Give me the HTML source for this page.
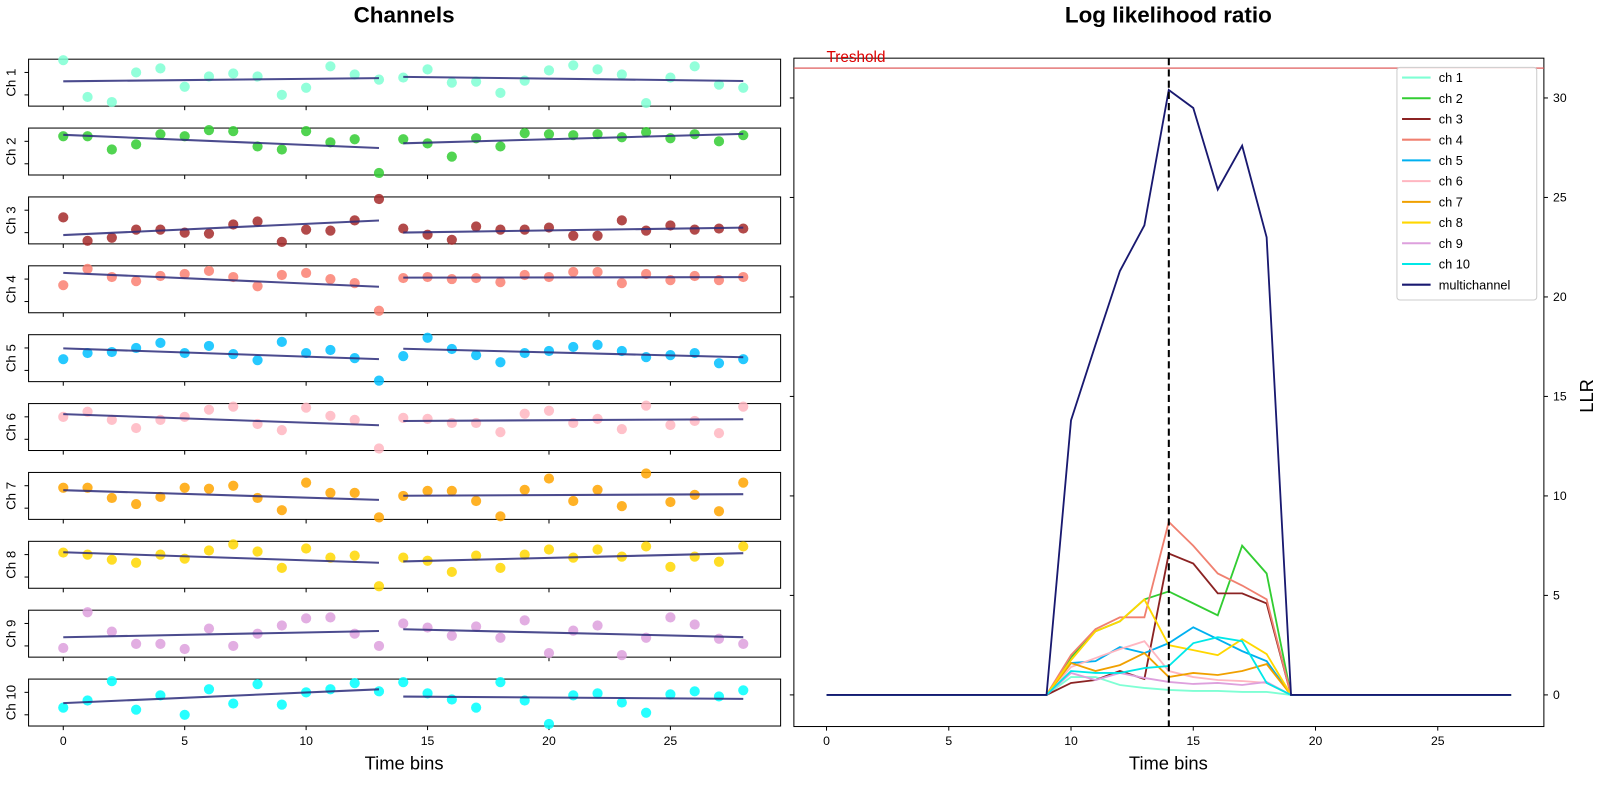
<!DOCTYPE html>
<html><head><meta charset="utf-8"><style>
html,body{margin:0;padding:0;background:#fff;}
svg{display:block;font-family:"Liberation Sans","DejaVu Sans",sans-serif;}
</style></head><body>
<svg id="c" width="1600" height="800" viewBox="0 0 1568 784" xmlns="http://www.w3.org/2000/svg"></svg>
<script>
const timeBins = [0,1,2,3,4,5,6,7,8,9,10,11,12,13,14,15,16,17,18,19,20,21,22,23,24,25,26,27,28];
const channelNames = ["Ch 1","Ch 2","Ch 3","Ch 4","Ch 5","Ch 6","Ch 7","Ch 8","Ch 9","Ch 10"];
const ch1 = [45,9,4,33,37,19,29,32,29,11,18,39,31,26,28,36,23,24,13,25,35,40,36,31,3,28,39,21,18];
const ch2 = [38,38,25,30,40,38,44,43,28,25,43,32,35,2,35,31,18,36,28,41,40,39,40,37,42,36,40,33,39];
const ch3 = [26,3,6,14,14,11,10,19,22,2,14,13,23,44,15,9,4,17,14,14,16,8,8,23,13,18,14,15,15];
const ch4 = [27,43,35,31,36,38,41,35,26,37,39,33,29,2,34,35,33,34,30,37,35,40,40,29,38,32,36,32,35];
const ch5 = [22,28,29,33,38,28,35,27,21,39,28,31,23,1,25,43,32,26,19,28,30,34,36,30,24,26,28,18,22];
const ch6 = [33,38,30,22,30,33,40,43,26,20,42,34,30,2,32,31,27,27,18,36,39,27,31,21,44,25,29,17,43];
const ch7 = [31,31,21,15,22,31,30,33,21,9,36,26,26,2,23,28,28,18,3,29,40,18,29,13,45,17,24,8,36];
const ch8 = [35,33,28,25,33,29,37,43,36,20,39,30,32,2,30,27,16,32,20,33,38,30,38,31,41,21,31,26,41];
const ch9 = [9,44,25,13,13,8,28,11,23,31,38,39,23,11,33,29,21,30,19,36,4,26,31,2,19,39,32,18,13];
const ch10 = [18,25,44,16,30,11,36,22,41,21,33,36,42,34,43,32,26,18,43,25,2,30,32,23,13,31,34,29,35];
const llr1 = [0,0,0,0,0,0,0,0,0,0,0.9,0.9,0.5,0.35,0.25,0.2,0.2,0.15,0.15,0,0,0,0,0,0,0,0,0,0];
const llr2 = [0,0,0,0,0,0,0,0,0,0,1.9,3.2,3.7,4.8,5.2,4.6,4.0,7.5,6.1,0,0,0,0,0,0,0,0,0,0];
const llr3 = [0,0,0,0,0,0,0,0,0,0,0.6,0.75,1.2,0.8,7.1,6.6,5.1,5.1,4.6,0,0,0,0,0,0,0,0,0,0];
const llr4 = [0,0,0,0,0,0,0,0,0,0,2.0,3.3,3.9,3.9,8.7,7.5,6.1,5.5,4.8,0,0,0,0,0,0,0,0,0,0];
const llr5 = [0,0,0,0,0,0,0,0,0,0,1.6,1.7,2.4,2.1,2.6,3.4,2.8,2.2,1.7,0,0,0,0,0,0,0,0,0,0];
const llr6 = [0,0,0,0,0,0,0,0,0,0,1.4,1.85,2.3,2.7,1.2,0.9,0.75,0.7,0.6,0,0,0,0,0,0,0,0,0,0];
const llr7 = [0,0,0,0,0,0,0,0,0,0,1.6,1.2,1.5,2.1,0.9,1.1,1.0,1.2,1.55,0,0,0,0,0,0,0,0,0,0];
const llr8 = [0,0,0,0,0,0,0,0,0,0,1.75,3.2,3.7,4.8,2.5,2.25,2.0,2.8,2.05,0,0,0,0,0,0,0,0,0,0];
const llr9 = [0,0,0,0,0,0,0,0,0,0,1.1,0.75,1.1,0.85,0.65,0.55,0.6,0.5,0.65,0,0,0,0,0,0,0,0,0,0];
const llr10 = [0,0,0,0,0,0,0,0,0,0,1.2,1.1,1.1,1.35,1.45,2.6,2.9,2.7,0.6,0,0,0,0,0,0,0,0,0,0];
const llrMulti = [0,0,0,0,0,0,0,0,0,0,13.8,17.6,21.3,23.6,30.4,29.5,25.4,27.6,23.0,0,0,0,0,0,0,0,0,0,0];
const threshold = 31.5;
const changePoint = 14;
const xTicks = [0,5,10,15,20,25];
const llrTicks = [0,5,10,15,20,25,30];
const legendLabels = ["ch 1","ch 2","ch 3","ch 4","ch 5","ch 6","ch 7","ch 8","ch 9","ch 10","multichannel"];

const chData = [ch1,ch2,ch3,ch4,ch5,ch6,ch7,ch8,ch9,ch10];
const llrData = [llr1,llr2,llr3,llr4,llr5,llr6,llr7,llr8,llr9,llr10,llrMulti];
const colors = ["#7fffd4","#32cd32","#a52a2a","#fa8072","#00bfff","#ffb6c1","#ffa500","#ffd700","#dda0dd","#00ffff","#191970"];
const lineColors = ["#7fffd4","#32cd32","#8b2323","#f08070","#00b0f0","#ffb6c1","#f0a000","#ffd700","#dda0dd","#00e8e8","#191970"];

const svg = document.getElementById('c');
const NS = "http://www.w3.org/2000/svg";
function mk(tag, attrs, parent){ const e=document.createElementNS(NS,tag); for(const k in attrs) e.setAttribute(k,attrs[k]); (parent||svg).appendChild(e); return e; }
function txt(s, attrs, parent){ const e=mk('text',attrs,parent); e.textContent=s; return e; }

// Left panel scales
const lx = v => 62 + v*23.8;
const rowTop = k => 58 + k*67.5;
const rowH = 46;

let t = txt("Channels",{x:396,y:22,'text-anchor':'middle','font-size':22,'font-weight':'bold'});



function fit(xs, ys){
  const n=xs.length; let sx=0,sy=0,sxx=0,sxy=0;
  for(let i=0;i<n;i++){sx+=xs[i];sy+=ys[i];sxx+=xs[i]*xs[i];sxy+=xs[i]*ys[i];}
  const b=(n*sxy-sx*sy)/(n*sxx-sx*sx); const a=(sy-b*sx)/n; return [a,b];
}

for(let k=0;k<10;k++){
  const g = mk('g',{});
  
  
  const top=rowTop(k), bot=top+rowH;
  const ly = v => bot - v;
  const box = mk('rect',{x:28,y:top,width:737,height:rowH,fill:'none',stroke:'#000','stroke-width':1},g);
  
  
  // left ticks
  mk('line',{x1:24,y1:top+13,x2:28,y2:top+13,stroke:'#000'},g);
  mk('line',{x1:24,y1:top+35,x2:28,y2:top+35,stroke:'#000'},g);
  // bottom ticks
  xTicks.forEach(v=>{ mk('line',{x1:lx(v),y1:bot,x2:lx(v),y2:bot+4,stroke:'#000'},g); });
  const lab = txt(channelNames[k],{x:0,y:0,transform:`translate(15,${top+rowH/2}) rotate(-90)`,'text-anchor':'middle','font-size':13},g);
  
  
  const d = chData[k];
  timeBins.forEach((tb,i)=>{
    const c = mk('circle',{cx:lx(tb),cy:ly(d[i]),r:5,fill:colors[k],'fill-opacity':0.85},g);
    
    
  });
  [[0,13],[14,28]].forEach(([s,e])=>{
    const xs=timeBins.slice(s,e+1), ys=d.slice(s,e+1);
    const [a,b]=fit(xs,ys);
    const l = mk('line',{x1:lx(s),y1:ly(a+b*s),x2:lx(e),y2:ly(a+b*e),stroke:'#2b2b7a','stroke-opacity':0.85,'stroke-width':2},g);
    
    
  });
}
xTicks.forEach(v=>{ txt(String(v),{x:lx(v),y:730,'text-anchor':'middle','font-size':12}); });
t = txt("Time bins",{x:396,y:754,'text-anchor':'middle','font-size':18});



// Right panel
const rx = v => 810 + v*23.96;
const ry = v => 681 - v*19.5;
const R = {x:778,y:57,w:735,h:655};
t = txt("Log likelihood ratio",{x:1145,y:22,'text-anchor':'middle','font-size':22,'font-weight':'bold'});


const frame = mk('rect',{x:R.x,y:R.y,width:R.w,height:R.h,fill:'none',stroke:'#000','stroke-width':1});


xTicks.forEach(v=>{
  mk('line',{x1:rx(v),y1:712,x2:rx(v),y2:716,stroke:'#000'});
  txt(String(v),{x:rx(v),y:730,'text-anchor':'middle','font-size':12});
});
llrTicks.forEach(v=>{
  mk('line',{x1:1513,y1:ry(v),x2:1517,y2:ry(v),stroke:'#000'});
  mk('line',{x1:774,y1:ry(v),x2:778,y2:ry(v),stroke:'#000'});
  txt(String(v),{x:1522,y:ry(v)+4,'font-size':12});
});
t = txt("Time bins",{x:1145,y:754,'text-anchor':'middle','font-size':18});


t = txt("LLR",{x:0,y:0,transform:'translate(1561,388) rotate(-90)','text-anchor':'middle','font-size':18});



const th = mk('line',{x1:R.x,y1:ry(threshold),x2:R.x+R.w,y2:ry(threshold),stroke:'#e06060','stroke-width':1.5,'stroke-opacity':0.85});


t = txt("Treshold",{x:810,y:ry(threshold)-6,'font-size':15,fill:'#dd0000'});



llrData.forEach((d,k)=>{
  const pts = timeBins.map((tb,i)=>rx(tb).toFixed(1)+','+ry(d[i]).toFixed(1)).join(' ');
  const p = mk('polyline',{points:pts,fill:'none',stroke:lineColors[k],'stroke-width':1.8,'stroke-linejoin':'miter'});
  
  
});
const dl = mk('line',{x1:rx(changePoint),y1:R.y,x2:rx(changePoint),y2:R.y+R.h,stroke:'#000','stroke-width':2,'stroke-dasharray':'7,4'});



// Legend
const lg = mk('g',{});


mk('rect',{x:1369,y:66,width:137,height:228,fill:'#fff','fill-opacity':0.85,stroke:'#ccc',rx:3},lg);
legendLabels.forEach((s,k)=>{
  const y = 76 + k*20.3;
  const e = mk('g',{},lg);
  
  
  mk('line',{x1:1374,y1:y,x2:1402,y2:y,stroke:lineColors[k],'stroke-width':2},e);
  txt(s,{x:1410,y:y+4.5,'font-size':12.5},e);
});
</script>
</body></html>
